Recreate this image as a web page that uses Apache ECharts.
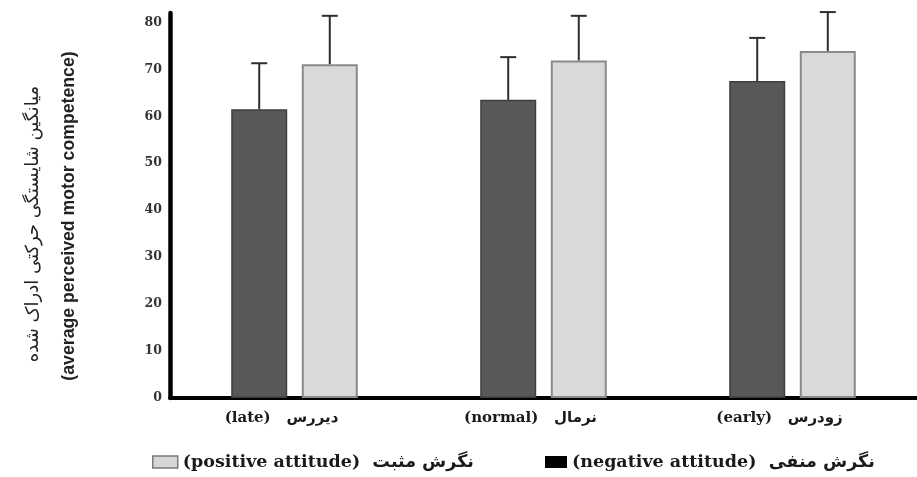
<!DOCTYPE html>
<html>
<head>
<meta charset="utf-8">
<script src="https://cdn.jsdelivr.net/npm/echarts@6/dist/echarts.min.js"></script>
<style>
  html, body { margin: 0; padding: 0; background: #fff; }
  #chart { width: 917px; height: 477px; }
</style>
</head>
<body>
<div id="chart"></div>
<script>
// Age groups along the x axis
const categories = ['(late)   دیررس', '(normal)   نرمال', '(early)   زودرس'];

// Mean perceived motor competence and the upper error for each attitude group
const negativeMeans = [61.5, 63.5, 67.5];
const negativeErrors = [9.8, 9.1, 9.2];
const positiveMeans = [71.1, 71.9, 73.9];
const positiveErrors = [10.3, 9.5, 8.3];

const seriesNames = ['(negative attitude)  نگرش منفی', '(positive attitude)  نگرش مثبت'];
const yTitle = ['میانگین شایستگی حرکتی ادراک شده', '(average perceived motor competence)'];

const BAR_WIDTH = 56;
const BAR_GAP = 0.26;
const serifFont = '"DejaVu Serif", "DejaVu Sans", serif';

const chart = echarts.init(document.getElementById('chart'), null, { renderer: 'canvas' });

// whisker rising from the top of a bar, shifted onto that bar inside its group
function whisker(sign) {
  return function (params, api) {
    const idx = api.value(0);
    const top = api.coord([idx, api.value(1)]);
    const cap = api.coord([idx, api.value(2)]);
    const shift = sign * (BAR_WIDTH + BAR_WIDTH * BAR_GAP) / 2;
    const x = top[0] + shift;
    const half = 8;
    const style = { stroke: '#2e2e2e', lineWidth: 2 };
    return {
      type: 'group',
      children: [
        { type: 'line', shape: { x1: x, y1: top[1], x2: x, y2: cap[1] }, style: style },
        { type: 'line', shape: { x1: x - half, y1: cap[1], x2: x + half, y2: cap[1] }, style: style }
      ]
    };
  };
}

const negWhiskers = negativeMeans.map((m, i) => [i, m, m + negativeErrors[i]]);
const posWhiskers = positiveMeans.map((m, i) => [i, m, m + positiveErrors[i]]);

const legendText = { fontFamily: serifFont, fontWeight: 'bold', fontSize: 17.5, color: '#1a1a1a' };

chart.setOption({
  animation: false,
  backgroundColor: '#ffffff',
  grid: { left: 170, top: 13, width: 755, height: 385, containLabel: false },
  legend: [
    {
      left: 147, top: 448,
      itemWidth: 25, itemHeight: 12, itemGap: 0,
      data: [{ name: seriesNames[1], icon: 'rect', itemStyle: { color: '#d6d6d6', borderColor: '#7a7a7a', borderWidth: 1.5 } }],
      textStyle: legendText,
      selectedMode: false
    },
    {
      left: 540, top: 448,
      itemWidth: 22, itemHeight: 12, itemGap: 0,
      data: [{ name: seriesNames[0], icon: 'rect', itemStyle: { color: '#000000', borderWidth: 0 } }],
      textStyle: legendText,
      selectedMode: false
    }
  ],
  graphic: [
    {
      type: 'text',
      x: 33, y: 224, rotation: Math.PI / 2,
      style: {
        text: yTitle[0],
        font: '18px "DejaVu Sans", sans-serif',
        fill: '#222', textAlign: 'center', textVerticalAlign: 'middle'
      }
    },
    {
      type: 'text',
      x: 69, y: 216, rotation: Math.PI / 2,
      style: {
        text: yTitle[1],
        font: 'bold 17.7px "Liberation Sans", sans-serif',
        fill: '#222', textAlign: 'center', textVerticalAlign: 'middle'
      }
    }
  ],
  xAxis: {
    type: 'category',
    data: categories,
    boundaryGap: true,
    axisLine: { show: true, lineStyle: { color: '#000', width: 4 } },
    axisTick: { show: false },
    axisLabel: {
      margin: 13,
      padding: [0, 26, 0, 0],
      fontFamily: serifFont,
      fontWeight: 'bold',
      fontSize: 15,
      color: '#1a1a1a'
    },
    splitLine: { show: false }
  },
  yAxis: {
    type: 'value',
    min: 0,
    max: 82,
    interval: 10,
    axisLine: { show: true, lineStyle: { color: '#000', width: 4.5 } },
    axisTick: { show: false },
    splitLine: { show: false },
    axisLabel: {
      showMaxLabel: false,
      margin: 8,
      fontFamily: serifFont,
      fontWeight: 'bold',
      fontSize: 12.5,
      color: '#333'
    }
  },
  series: [
    {
      name: seriesNames[0],
      type: 'bar',
      data: negativeMeans,
      barWidth: BAR_WIDTH,
      barGap: (BAR_GAP * 100) + '%',
      itemStyle: { color: '#585858', borderColor: '#3e3e3e', borderWidth: 1.5 }
    },
    {
      name: seriesNames[1],
      type: 'bar',
      data: positiveMeans,
      barWidth: BAR_WIDTH,
      barGap: (BAR_GAP * 100) + '%',
      itemStyle: { color: '#d9d9d9', borderColor: '#8a8a8a', borderWidth: 2 }
    },
    {
      type: 'custom',
      data: negWhiskers,
      renderItem: whisker(-1),
      encode: { x: 0, y: [1, 2] },
      z: 5,
      silent: true
    },
    {
      type: 'custom',
      data: posWhiskers,
      renderItem: whisker(1),
      encode: { x: 0, y: [1, 2] },
      z: 5,
      silent: true
    }
  ]
});
</script>
</body>
</html>
